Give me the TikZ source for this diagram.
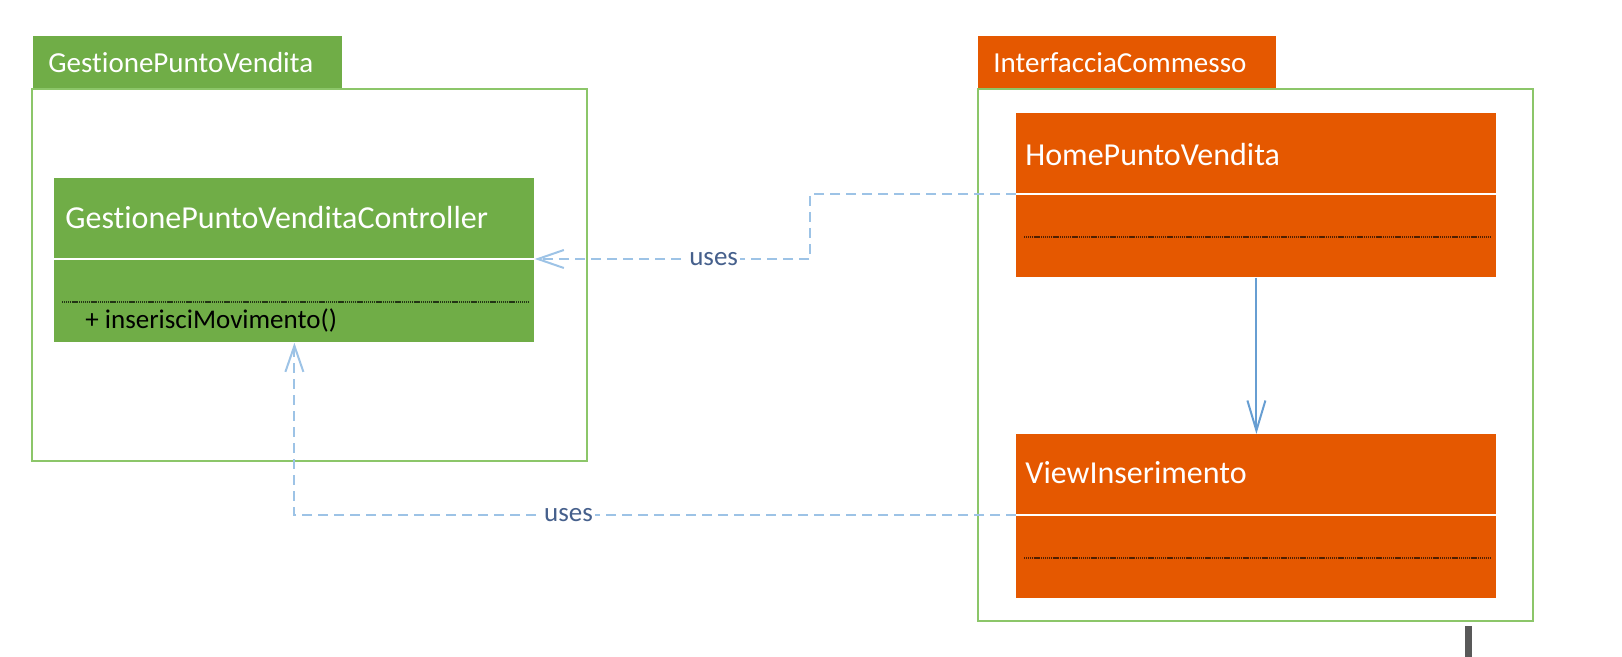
\documentclass[tikz,border=0pt]{standalone}
\usepackage{fontspec}
\setmainfont{Carlito}[Ligatures=NoCommon]
\usetikzlibrary{arrows.meta,positioning}

\definecolor{pkgGreen}{RGB}{112,173,71}
\definecolor{pkgLine}{RGB}{140,198,105}
\definecolor{pkgOrange}{RGB}{229,88,0}
\definecolor{linkBlue}{RGB}{103,158,210}
\definecolor{dashBlue}{RGB}{157,195,230}
\definecolor{usesBlue}{RGB}{70,96,140}

\begin{document}
\begin{tikzpicture}[x=0.5pt,y=-0.5pt,
  tab/.style={fill=#1,anchor=north west,minimum height=26pt,text width=139.5pt,
    inner xsep=7.5pt,inner ysep=0pt,align=left,text=white,font=\fontsize{14.5}{16}\selectfont},
  pkgbody/.style={draw=pkgLine,line width=1pt},
  classbox/.style={fill=#1,anchor=north west,minimum width=240pt,minimum height=82pt,inner sep=0pt},
  classname/.style={anchor=west,inner sep=0pt,text=white,font=\fontsize{16}{18}\selectfont},
  method/.style={anchor=west,inner sep=0pt,text=black,font=\fontsize{13.5}{15}\selectfont},
  uses/.style={fill=white,inner sep=1pt,text=usesBlue,font=\fontsize{13.5}{15}\selectfont},
  usesline/.style={dashBlue,line width=1pt,dash pattern=on 5pt off 3pt,-{Straight Barb[length=13pt,width=9pt]}}]

  \useasboundingbox (0,0) rectangle (1622,657);

  % Packages
  \draw[pkgbody] (32,89) rectangle (587,461);
  \draw[pkgbody] (978,89) rectangle (1533,621);
  \node[tab=pkgGreen] (gpvTab) at (33,36) {GestionePuntoVendita};
  \node[tab=pkgOrange,text width=134pt] (icTab) at (978,36) {InterfacciaCommesso};

  % Classes
  \node[classbox=pkgGreen] (ctrl) at (54,178) {};
  \node[classbox=pkgOrange] (home) at (1016,113) {};
  \node[classbox=pkgOrange] (view) at (1016,434) {};

  \node[classname] (ctrlName) at ([xshift=5.5pt,yshift=-20pt]ctrl.north west) {GestionePuntoVenditaController};
  \node[classname] (homeName) at ([xshift=4.5pt,yshift=-21pt]home.north west) {HomePuntoVendita};
  \node[classname] (viewName) at ([xshift=4.5pt,yshift=-19.5pt]view.north west) {ViewInserimento};
  \node[method] (ctrlOp) at ([xshift=15.5pt,yshift=-71pt]ctrl.north west) {+ inserisciMovimento()};

  % Compartments
  \foreach \c/\dots in {ctrl/black!70!pkgGreen,home/black!65!pkgOrange,view/black!65!pkgOrange}
    {
    \draw[white,line width=1pt] ([yshift=-40.5pt]\c.north west) -- ([yshift=-40.5pt]\c.north east);
    \draw[\dots,line width=1.3pt,dash pattern=on 0.6pt off 0.35pt] ([xshift=4pt,yshift=-62pt]\c.north west) -- ([xshift=-3.5pt,yshift=-62pt]\c.north east);
    \coordinate (\c Sepw) at ([yshift=-40.5pt]\c.north west);
    \coordinate (\c Sepe) at ([yshift=-40.5pt]\c.north east);
    }

  % Links
  \draw[linkBlue,line width=1pt,-{Straight Barb[length=15pt,width=9pt]}] (home.south) -- (view.north);

  \coordinate (usesBend) at (810,0);
  \draw[usesline] (homeSepw) -- (homeSepw -| usesBend) -- (usesBend |- ctrlSepe)
    -- node[uses,pos=0.35] (usesA) {uses} (ctrlSepe);
  \draw[usesline] (viewSepw) -| node[uses,pos=0.31] (usesB) {uses} (ctrl.south);

  % cursor mark
  \fill[black!65] (1465,626) rectangle (1472,657);
\end{tikzpicture}
\end{document}
